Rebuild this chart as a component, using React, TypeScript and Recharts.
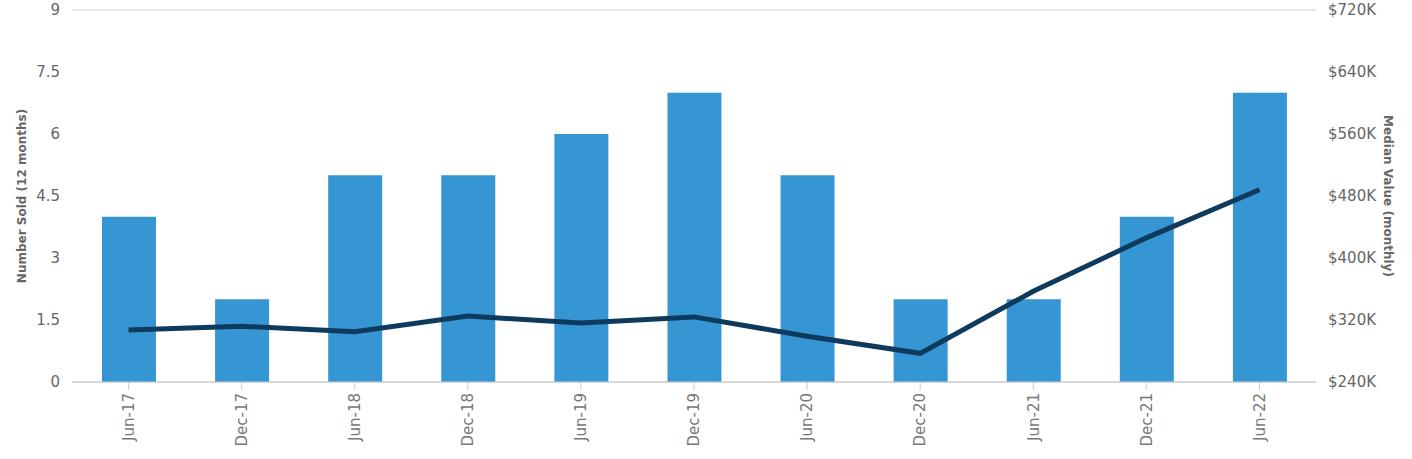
import React from 'react';
import { ComposedChart, Bar, Line, XAxis, YAxis, CartesianGrid } from 'recharts';

const periods = ['Jun-17', 'Dec-17', 'Jun-18', 'Dec-18', 'Jun-19', 'Dec-19', 'Jun-20', 'Dec-20', 'Jun-21', 'Dec-21', 'Jun-22'];
const numberSold = [4, 2, 5, 5, 6, 7, 5, 2, 2, 4, 7];
const medianValue = [307000, 312000, 305000, 325000, 316000, 324000, 299000, 277000, 357000, 426000, 488000];

const leftTicks = [0, 1.5, 3, 4.5, 6, 7.5, 9];
const rightTicks = [240000, 320000, 400000, 480000, 560000, 640000, 720000];

const FONT = '"DejaVu Sans", sans-serif';

// rotated period label, centred on its tick
const PeriodTick = ({ x, y, payload }: any) => (
  <g transform={`translate(${x},${y})`}>
    <text
      transform="rotate(-90)"
      x={-1}
      y={0}
      dy="0.35em"
      textAnchor="end"
      fill="#777"
      fontSize={15}
      fontFamily={FONT}
    >
      {payload.value}
    </text>
  </g>
);

export default function App() {
  const data = periods.map((p, i) => ({
    period: p,
    sold: numberSold[i],
    median: medianValue[i],
  }));

  const tickStyle = { fill: '#666', fontSize: 15, fontFamily: FONT };
  const titleStyle = { textAnchor: 'middle', fontSize: 12, fontWeight: 'bold', fill: '#666', fontFamily: FONT };

  return (
    <div style={{ position: 'absolute', left: 0, top: 0, width: 1412, height: 459, background: '#fff' }}>
      <ComposedChart
        width={1412}
        height={459}
        data={data}
        margin={{ top: 10, right: 0, left: 0, bottom: 0 }}
      >
        <CartesianGrid vertical={false} stroke="#cccccc" strokeWidth={1} />
        <XAxis
          dataKey="period"
          height={77}
          interval={0}
          tick={<PeriodTick />}
          tickSize={8}
          tickMargin={2}
          stroke="#cccccc"
          tickLine={{ stroke: '#cccccc' }}
        />
        <YAxis
          yAxisId="left"
          width={72}
          domain={[0, 9]}
          ticks={leftTicks}
          axisLine={false}
          tickLine={false}
          tickMargin={6}
          tick={tickStyle}
          label={{
            value: 'Number Sold (12 months)',
            angle: -90,
            position: 'insideLeft',
            offset: 22,
            style: titleStyle,
          }}
        />
        <YAxis
          yAxisId="right"
          orientation="right"
          width={96}
          domain={[240000, 720000]}
          ticks={rightTicks}
          axisLine={false}
          tickLine={false}
          tickMargin={6}
          tick={tickStyle}
          tickFormatter={(v: number) => `$${v / 1000}K`}
          label={{
            value: 'Median Value (monthly)',
            angle: 90,
            position: 'insideRight',
            offset: 24,
            style: titleStyle,
          }}
        />
        <Bar yAxisId="left" dataKey="sold" fill="#3596d3" barSize={54} isAnimationActive={false} />
        <Line
          yAxisId="right"
          dataKey="median"
          type="linear"
          stroke="#0e3a5e"
          strokeWidth={5}
          dot={false}
          activeDot={false}
          isAnimationActive={false}
        />
      </ComposedChart>
    </div>
  );
}
